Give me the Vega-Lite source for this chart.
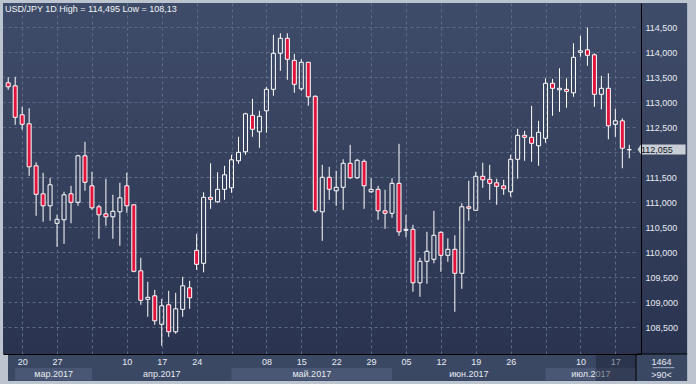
{
  "$schema": "https://vega.github.io/schema/vega-lite/v6.json",
  "width": 638,
  "height": 351,
  "autosize": {"type": "none"},
  "padding": {"left": 3, "top": 3, "right": 55, "bottom": 30},
  "background": "#bcc4cf",
  "view": {
    "stroke": null,
    "fill": {"gradient": "linear", "x1": 0, "y1": 0, "x2": 0, "y2": 1,
      "stops": [{"offset": 0, "color": "#3f4c69"}, {"offset": 0.5, "color": "#35405c"}, {"offset": 1, "color": "#2a3450"}]}
  },
  "title": {
    "text": "USD/JPY 1D High = 114,495 Low = 108,13",
    "anchor": "start", "frame": "group", "offset": -11, "dx": 2,
    "fontSize": 9, "fontWeight": "normal", "color": "#f0f3f7", "font": "Liberation Sans"
  },
  "config": {
    "font": "Liberation Sans",
    "locale": {"number": {"decimal": ",", "thousands": " ", "grouping": [3], "currency": ["", ""]}}
  },
  "resolve": {"axis": {"x": "independent", "y": "independent"}},
  "datasets": {
    "months": [
      {"n": 3, "m": "мар.2017", "a": 1, "b": 12, "mid": 6.5},
      {"n": 4, "m": "апр.2017", "a": 12, "b": 32, "mid": 22},
      {"n": 5, "m": "май.2017", "a": 32, "b": 55, "mid": 43.5},
      {"n": 6, "m": "июн.2017", "a": 55, "b": 77, "mid": 66},
      {"n": 7, "m": "июл.2017", "a": 77, "b": 89.96, "mid": 83.5}
    ],
    "px": [
      {"i":0,"o":113.39,"h":113.5,"l":113.25,"c":113.31},
      {"i":1,"o":113.33,"h":113.51,"l":112.55,"c":112.7},
      {"i":2,"o":112.75,"h":112.91,"l":112.45,"c":112.56},
      {"i":3,"o":112.57,"h":112.88,"l":111.53,"c":111.71},
      {"i":4,"o":111.73,"h":111.8,"l":110.73,"c":111.16},
      {"i":5,"o":111.17,"h":111.59,"l":110.61,"c":110.93},
      {"i":6,"o":110.93,"h":111.49,"l":110.63,"c":111.35},
      {"i":7,"o":110.58,"h":110.75,"l":110.11,"c":110.66},
      {"i":8,"o":110.65,"h":111.21,"l":110.17,"c":111.15},
      {"i":9,"o":111.17,"h":111.33,"l":110.58,"c":111.0},
      {"i":10,"o":111.0,"h":111.95,"l":110.93,"c":111.93},
      {"i":11,"o":111.93,"h":112.21,"l":111.23,"c":111.4},
      {"i":12,"o":111.33,"h":111.61,"l":110.85,"c":110.89},
      {"i":13,"o":110.91,"h":110.95,"l":110.27,"c":110.75},
      {"i":14,"o":110.77,"h":111.47,"l":110.53,"c":110.71},
      {"i":15,"o":110.71,"h":111.15,"l":110.27,"c":110.82},
      {"i":16,"o":110.81,"h":111.39,"l":110.13,"c":111.09},
      {"i":17,"o":111.33,"h":111.59,"l":110.79,"c":110.93},
      {"i":18,"o":110.95,"h":110.96,"l":109.6,"c":109.62},
      {"i":19,"o":109.63,"h":109.89,"l":108.95,"c":109.04},
      {"i":20,"o":109.06,"h":109.41,"l":108.71,"c":109.1},
      {"i":21,"o":109.13,"h":109.25,"l":108.55,"c":108.63},
      {"i":22,"o":108.56,"h":109.07,"l":108.13,"c":108.93},
      {"i":23,"o":108.95,"h":109.23,"l":108.31,"c":108.41},
      {"i":24,"o":108.41,"h":109.19,"l":108.37,"c":108.87},
      {"i":25,"o":108.86,"h":109.51,"l":108.71,"c":109.33},
      {"i":26,"o":109.29,"h":109.43,"l":108.87,"c":109.09},
      {"i":27,"o":110.04,"h":110.37,"l":109.65,"c":109.76},
      {"i":28,"o":109.78,"h":111.2,"l":109.6,"c":111.1},
      {"i":29,"o":111.1,"h":111.78,"l":110.87,"c":111.06},
      {"i":30,"o":111.01,"h":111.6,"l":110.99,"c":111.26},
      {"i":31,"o":111.26,"h":111.73,"l":111.05,"c":111.55},
      {"i":32,"o":111.29,"h":111.95,"l":111.19,"c":111.85},
      {"i":33,"o":111.83,"h":112.31,"l":111.77,"c":112.0},
      {"i":34,"o":112.01,"h":112.79,"l":111.95,"c":112.77},
      {"i":35,"o":112.74,"h":113.07,"l":112.31,"c":112.46},
      {"i":36,"o":112.41,"h":112.83,"l":112.09,"c":112.72},
      {"i":37,"o":112.83,"h":113.31,"l":112.39,"c":113.26},
      {"i":38,"o":113.26,"h":114.35,"l":113.13,"c":113.98},
      {"i":39,"o":113.98,"h":114.38,"l":113.63,"c":114.28},
      {"i":40,"o":114.28,"h":114.38,"l":113.45,"c":113.86},
      {"i":41,"o":113.84,"h":113.97,"l":113.19,"c":113.36},
      {"i":42,"o":113.27,"h":113.86,"l":113.23,"c":113.8},
      {"i":43,"o":113.8,"h":113.81,"l":112.93,"c":113.11},
      {"i":44,"o":113.12,"h":113.14,"l":110.79,"c":110.83},
      {"i":45,"o":110.81,"h":111.75,"l":110.23,"c":111.5},
      {"i":46,"o":111.5,"h":111.71,"l":111.05,"c":111.26},
      {"i":47,"o":111.23,"h":111.63,"l":110.93,"c":111.3},
      {"i":48,"o":111.3,"h":111.86,"l":110.85,"c":111.78},
      {"i":49,"o":111.78,"h":112.15,"l":111.47,"c":111.49},
      {"i":50,"o":111.49,"h":111.87,"l":111.47,"c":111.84},
      {"i":51,"o":111.82,"h":111.86,"l":110.87,"c":111.33},
      {"i":52,"o":111.21,"h":111.48,"l":111.19,"c":111.26},
      {"i":53,"o":111.26,"h":111.33,"l":110.65,"c":110.83},
      {"i":54,"o":110.83,"h":111.25,"l":110.47,"c":110.78},
      {"i":55,"o":110.78,"h":111.48,"l":110.69,"c":111.38},
      {"i":56,"o":111.38,"h":112.17,"l":110.33,"c":110.41},
      {"i":57,"o":110.44,"h":110.75,"l":110.3,"c":110.46},
      {"i":58,"o":110.46,"h":110.55,"l":109.21,"c":109.39},
      {"i":59,"o":109.39,"h":109.89,"l":109.11,"c":109.82},
      {"i":60,"o":109.82,"h":110.41,"l":109.37,"c":110.02},
      {"i":61,"o":109.86,"h":110.83,"l":109.78,"c":110.34},
      {"i":62,"o":110.4,"h":110.42,"l":109.61,"c":109.94},
      {"i":63,"o":109.94,"h":110.28,"l":109.81,"c":110.06},
      {"i":64,"o":110.06,"h":110.34,"l":108.81,"c":109.58},
      {"i":65,"o":109.58,"h":110.98,"l":109.27,"c":110.91},
      {"i":66,"o":110.91,"h":111.43,"l":110.63,"c":110.88},
      {"i":67,"o":110.84,"h":111.61,"l":110.84,"c":111.52},
      {"i":68,"o":111.52,"h":111.79,"l":111.29,"c":111.45},
      {"i":69,"o":111.46,"h":111.75,"l":111.05,"c":111.38},
      {"i":70,"o":111.39,"h":111.47,"l":110.95,"c":111.32},
      {"i":71,"o":111.33,"h":111.45,"l":111.15,"c":111.27},
      {"i":72,"o":111.21,"h":111.95,"l":111.11,"c":111.86},
      {"i":73,"o":111.86,"h":112.47,"l":111.47,"c":112.34},
      {"i":74,"o":112.34,"h":112.43,"l":111.83,"c":112.3},
      {"i":75,"o":112.3,"h":112.93,"l":111.81,"c":112.18},
      {"i":76,"o":112.13,"h":112.63,"l":111.73,"c":112.4},
      {"i":77,"o":112.28,"h":113.48,"l":112.19,"c":113.38},
      {"i":78,"o":113.38,"h":113.47,"l":112.73,"c":113.28},
      {"i":79,"o":113.25,"h":113.68,"l":112.81,"c":113.28},
      {"i":80,"o":113.26,"h":113.48,"l":112.89,"c":113.22},
      {"i":81,"o":113.19,"h":114.18,"l":113.11,"c":113.9},
      {"i":82,"o":114.0,"h":114.33,"l":113.91,"c":114.03},
      {"i":83,"o":114.05,"h":114.495,"l":113.73,"c":113.94},
      {"i":84,"o":113.95,"h":113.98,"l":112.91,"c":113.16},
      {"i":85,"o":113.16,"h":113.53,"l":112.86,"c":113.28},
      {"i":86,"o":113.28,"h":113.58,"l":112.26,"c":112.53},
      {"i":87,"o":112.56,"h":112.87,"l":112.31,"c":112.63},
      {"i":88,"o":112.63,"h":112.68,"l":111.68,"c":112.08},
      {"i":89,"o":112.05,"h":112.15,"l":111.88,"c":112.055}
    ]
  },
  "layer": [
    {
      "data": {"values": [{}]},
      "mark": {"type": "rect", "clip": false,
        "fill": {"gradient": "linear", "x1": 0, "y1": 0, "x2": 0, "y2": 1,
          "stops": [{"offset": 0, "color": "#3f4c69"}, {"offset": 0.5, "color": "#35405c"}, {"offset": 1, "color": "#2a3450"}]}},
      "encoding": {
        "x": {"datum": 89.96, "type": "quantitative", "scale": {"type": "linear", "domain": [-0.03, 89.96], "nice": false, "zero": false}, "axis": null},
        "x2": {"datum": 97.29},
        "y": {"datum": 114.986, "type": "quantitative", "scale": {"type": "linear", "domain": [107.966, 114.986], "nice": false, "zero": false}, "axis": null},
        "y2": {"datum": 107.966}
      }
    },
    {
      "data": {"values": [{}]},
      "mark": {"type": "rect", "clip": false, "fill": "#3b4864"},
      "encoding": {
        "x": {"datum": -0.03, "type": "quantitative", "axis": null},
        "x2": {"datum": 97.29},
        "y": {"datum": 107.966, "type": "quantitative", "axis": null},
        "y2": {"datum": 107.426}
      }
    },
    {
      "data": {"name": "months"},
      "transform": [{"filter": "datum.n % 2 == 1"}],
      "mark": {"type": "rect", "clip": false, "fill": "#4a5774"},
      "encoding": {
        "x": {"field": "a", "type": "quantitative", "axis": null},
        "x2": {"field": "b"},
        "y": {"datum": 107.686, "type": "quantitative", "axis": null},
        "y2": {"datum": 107.436}
      }
    },
    {
      "data": {"name": "months"},
      "mark": {"type": "text", "clip": false, "fontSize": 9, "color": "#e6ebf2", "align": "center", "baseline": "middle"},
      "encoding": {
        "x": {"field": "mid", "type": "quantitative", "axis": null},
        "y": {"datum": 107.576, "type": "quantitative", "axis": null},
        "text": {"field": "m"}
      }
    },
    {
      "data": {"values": [{}]},
      "mark": {"type": "rect", "clip": false, "fill": "#182030", "opacity": 0.45},
      "encoding": {
        "x": {"datum": 84.2, "type": "quantitative", "axis": null},
        "x2": {"datum": 89.96},
        "y": {"datum": 107.966, "type": "quantitative", "axis": null},
        "y2": {"datum": 107.426}
      }
    },
    {
      "data": {"values": [{}]},
      "mark": {"type": "rule", "clip": false, "color": "#000000", "strokeWidth": 1},
      "encoding": {
        "x": {"datum": 89.96, "type": "quantitative", "axis": null},
        "y": {"datum": 107.966, "type": "quantitative", "axis": null},
        "y2": {"datum": 107.426}
      }
    },
    {
      "data": {"values": [{}]},
      "mark": {"type": "rule", "clip": false, "color": "#000000", "strokeWidth": 1},
      "encoding": {
        "x": {"datum": 89.96, "type": "quantitative", "axis": null},
        "x2": {"datum": 97.29},
        "y": {"datum": 107.966, "type": "quantitative", "axis": null}
      }
    },
    {
      "data": {"values": [{}]},
      "mark": {"type": "rule", "clip": false, "color": "#aab4c6", "strokeWidth": 1},
      "encoding": {
        "x": {"datum": 92.35, "type": "quantitative", "axis": null},
        "x2": {"datum": 95.46},
        "y": {"datum": 107.692, "type": "quantitative", "axis": null}
      }
    },
    {
      "data": {"values": [{"t": "1464"}]},
      "mark": {"type": "text", "clip": false, "fontSize": 9, "color": "#e6ebf2", "align": "center", "baseline": "middle"},
      "encoding": {
        "x": {"datum": 93.62, "type": "quantitative", "axis": null},
        "y": {"datum": 107.806, "type": "quantitative", "axis": null},
        "text": {"field": "t"}
      }
    },
    {
      "data": {"values": [{"t": ">90<"}]},
      "mark": {"type": "text", "clip": false, "fontSize": 9, "color": "#e6ebf2", "align": "center", "baseline": "middle"},
      "encoding": {
        "x": {"datum": 93.62, "type": "quantitative", "axis": null},
        "y": {"datum": 107.556, "type": "quantitative", "axis": null},
        "text": {"field": "t"}
      }
    },
    {
      "data": {"name": "px"},
      "transform": [{"filter": "datum.c >= datum.o"}],
      "mark": {"type": "rule", "clip": true, "color": "#ffffff", "strokeWidth": 1},
      "encoding": {
        "x": {"field": "i", "type": "quantitative",
          "axis": {"orient": "bottom", "grid": true, "gridColor": "#5d6a86", "gridDash": [3, 3], "gridWidth": 1,
            "labels": false, "ticks": false, "domain": false, "title": null, "zindex": 0,
            "values": [2, 7, 12, 17, 22, 27, 32, 37, 42, 47, 52, 57, 62, 67, 72, 77, 82, 87]}},
        "y": {"field": "h", "type": "quantitative",
          "axis": {"orient": "right", "grid": true, "gridColor": "#5d6a86", "gridDash": [3, 3], "gridWidth": 1,
            "labels": false, "ticks": false, "domain": false, "title": null, "zindex": 0,
            "values": [108.5, 109, 109.5, 110, 110.5, 111, 111.5, 112, 112.5, 113, 113.5, 114, 114.5]}},
        "y2": {"field": "c"}
      }
    },
    {
      "data": {"name": "px"},
      "transform": [{"filter": "datum.c >= datum.o"}],
      "mark": {"type": "rule", "clip": true, "color": "#ffffff", "strokeWidth": 1},
      "encoding": {
        "x": {"field": "i", "type": "quantitative", "axis": null},
        "y": {"field": "o", "type": "quantitative", "axis": null},
        "y2": {"field": "l"}
      }
    },
    {
      "data": {"name": "px"},
      "transform": [{"filter": "datum.c < datum.o"}],
      "mark": {"type": "rule", "clip": true, "color": "#ffffff", "strokeWidth": 1},
      "encoding": {
        "x": {"field": "i", "type": "quantitative", "axis": null},
        "y": {"field": "h", "type": "quantitative", "axis": null},
        "y2": {"field": "o"}
      }
    },
    {
      "data": {"name": "px"},
      "transform": [{"filter": "datum.c < datum.o"}],
      "mark": {"type": "rule", "clip": true, "color": "#ffffff", "strokeWidth": 1},
      "encoding": {
        "x": {"field": "i", "type": "quantitative", "axis": null},
        "y": {"field": "c", "type": "quantitative", "axis": null},
        "y2": {"field": "l"}
      }
    },
    {
      "data": {"name": "px"},
      "transform": [{"filter": "datum.c >= datum.o"}],
      "mark": {"type": "bar", "clip": true, "size": 4, "fill": "#2f3a55", "fillOpacity": 0, "stroke": "#ffffff", "strokeWidth": 1},
      "encoding": {
        "x": {"field": "i", "type": "quantitative", "axis": null},
        "y": {"field": "o", "type": "quantitative", "axis": null},
        "y2": {"field": "c"}
      }
    },
    {
      "data": {"name": "px"},
      "transform": [{"filter": "datum.c < datum.o"}],
      "mark": {"type": "bar", "clip": true, "size": 4, "fill": "#e0143c", "stroke": "#ffffff", "strokeWidth": 1},
      "encoding": {
        "x": {"field": "i", "type": "quantitative",
          "axis": {"orient": "bottom", "grid": false, "domain": true, "domainColor": "#000000", "domainWidth": 1,
            "ticks": false, "tickSize": 0, "labelPadding": 3, "title": null, "zindex": 1,
            "labelFont": "Liberation Sans", "labelFontSize": 9, "labelOverlap": false, "labelFlush": false,
            "labelColor": {"condition": {"test": "datum.value == 87", "value": "#8c95a8"}, "value": "#e6ebf2"},
            "values": [2, 7, 12, 17, 22, 27, 32, 37, 42, 47, 52, 57, 62, 67, 72, 77, 82, 87],
            "labelExpr": "['20','27','','10','17','24','','08','15','22','29','05','12','19','26','','10','17'][round((datum.value-2)/5)]"}},
        "y": {"field": "o", "type": "quantitative",
          "axis": {"orient": "right", "grid": false, "domain": true, "domainColor": "#000000", "domainWidth": 1,
            "ticks": false, "tickSize": 0, "labelPadding": 4, "title": null, "zindex": 1,
            "labelFont": "Liberation Sans", "labelFontSize": 9, "labelColor": "#e6ebf2", "labelOverlap": false, "labelFlush": false,
            "format": ".3f",
            "values": [108.5, 109, 109.5, 110, 110.5, 111, 111.5, 112.5, 113, 113.5, 114, 114.5]}},
        "y2": {"field": "c"}
      }
    },
    {
      "data": {"name": "px"},
      "transform": [{"filter": "datum.i == 89"}],
      "mark": {"type": "point", "clip": false, "filled": true, "fill": "#c9ced6", "opacity": 1, "strokeWidth": 0, "size": 2304,
        "shape": "M -1 0 L -0.86 -0.21 L 1 -0.21 L 1 0.21 L -0.86 0.21 Z"},
      "encoding": {
        "x": {"datum": 93.62, "type": "quantitative", "axis": null},
        "y": {"field": "c", "type": "quantitative", "axis": null}
      }
    },
    {
      "data": {"name": "px"},
      "transform": [{"filter": "datum.i == 89"}],
      "mark": {"type": "text", "clip": false, "fontSize": 9, "color": "#101827", "align": "left", "baseline": "middle"},
      "encoding": {
        "x": {"datum": 90.66, "type": "quantitative", "axis": null},
        "y": {"field": "c", "type": "quantitative", "axis": null},
        "text": {"field": "c", "type": "quantitative", "format": ".3f"}
      }
    }
  ]
}
